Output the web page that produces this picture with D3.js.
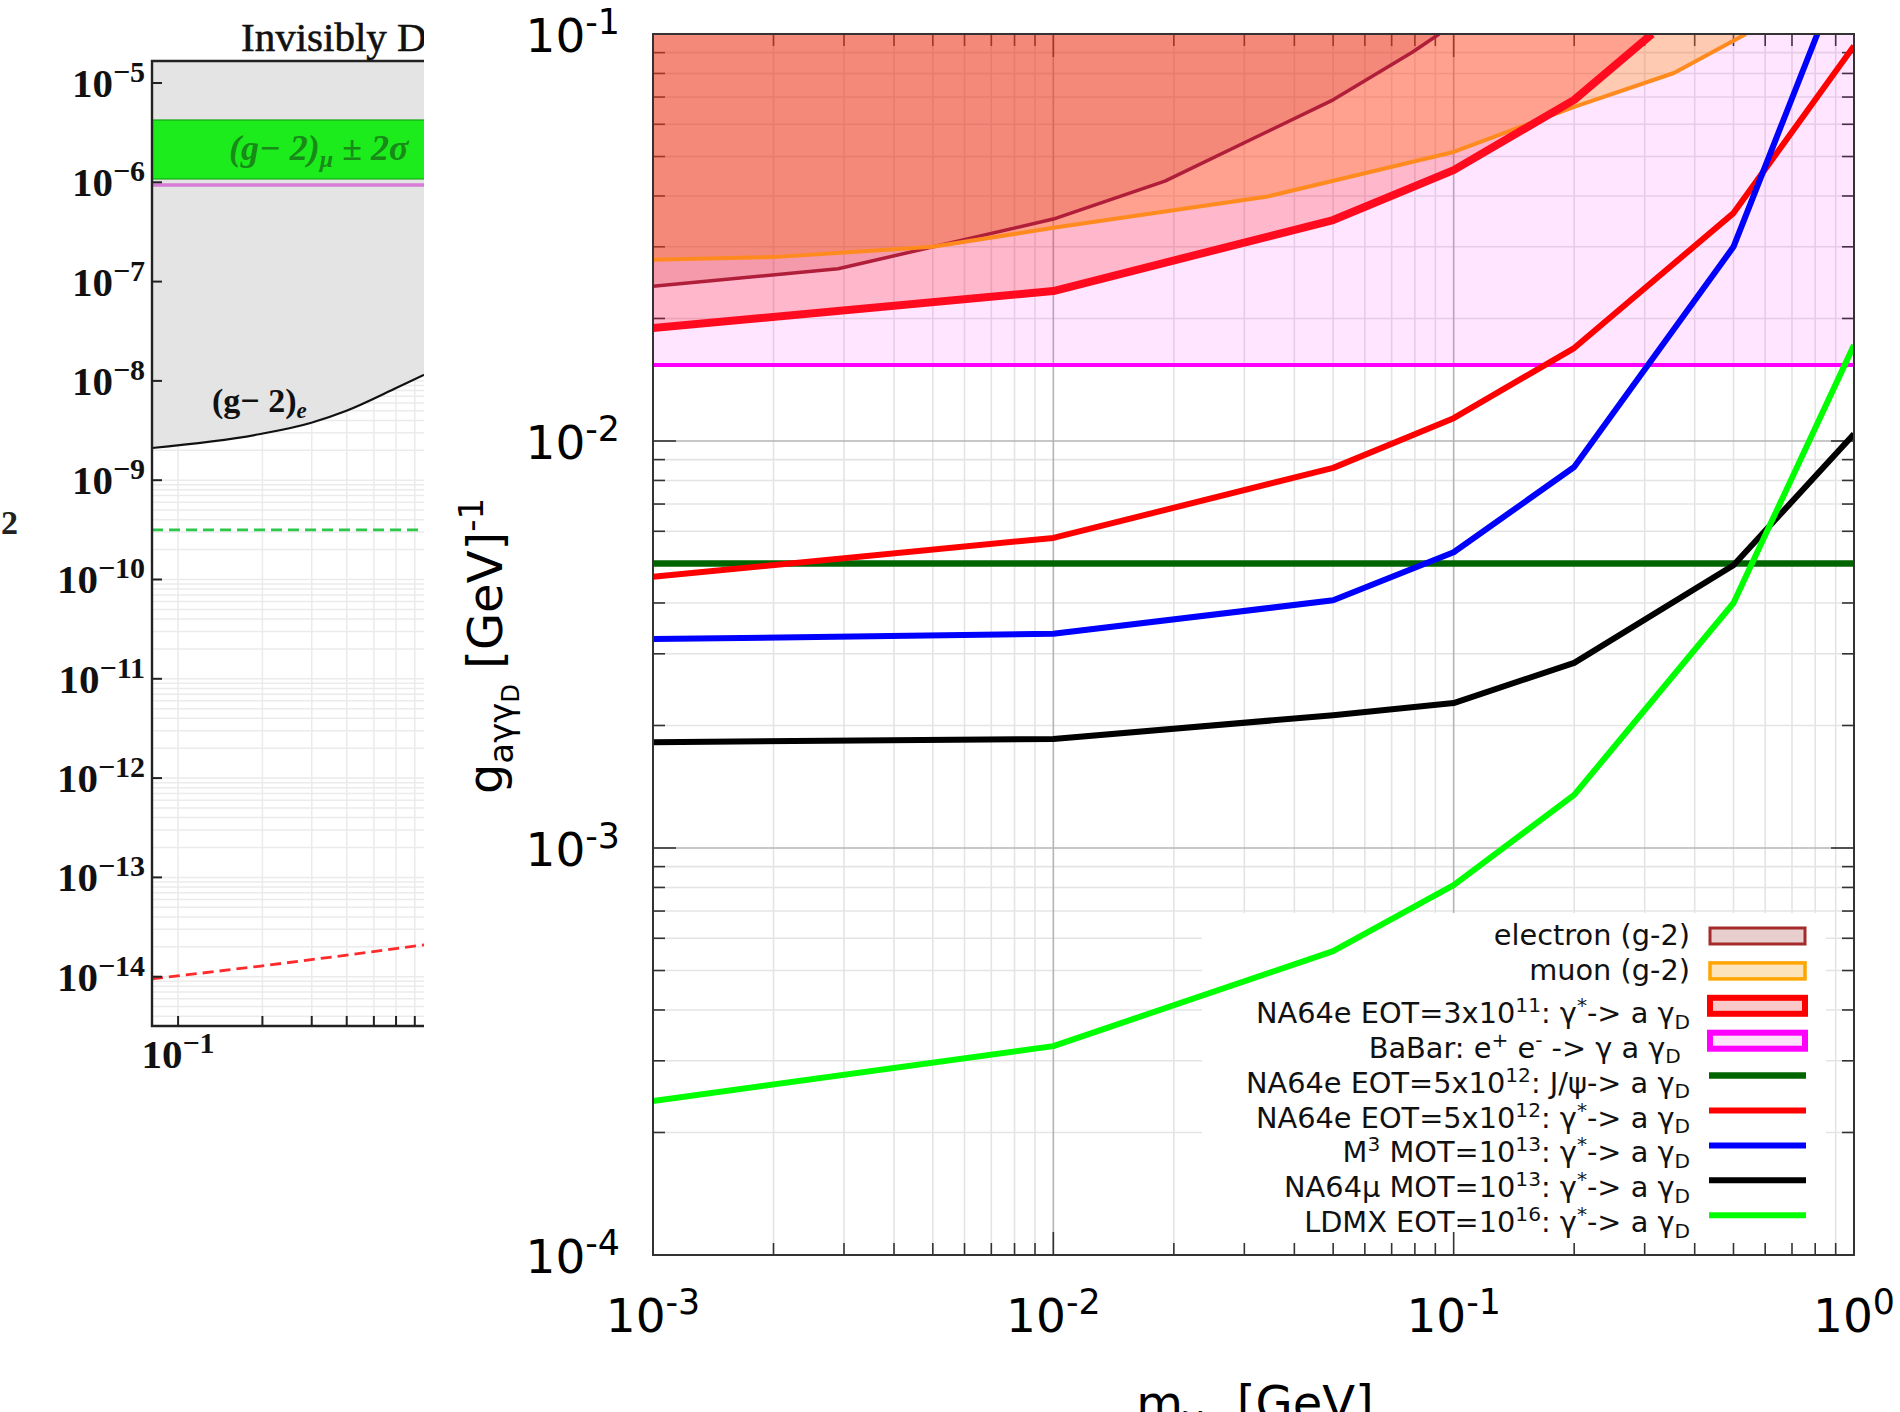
<!DOCTYPE html>
<html>
<head>
<meta charset="utf-8">
<script src="https://cdn.jsdelivr.net/npm/d3@7"></script>
<style>
  html, body { margin: 0; padding: 0; background: #fff; }
  svg { display: block; }
  text { white-space: pre; }
</style>
</head>
<body>
<svg id="chart" width="1900" height="1412"></svg>
<script>
// ---------- main panel: limits on g_{a gamma gamma_D} vs m_{gamma_D} ----------
const electronMass = [0.001, 0.0029, 0.01, 0.019, 0.05, 0.079, 0.092];
const electronG    = [0.0240, 0.0265, 0.0351, 0.0435, 0.0689, 0.0903, 0.1];
const muonMass     = [0.001, 0.002, 0.005, 0.01, 0.034, 0.1, 0.2, 0.355, 0.537];
const muonG        = [0.0279, 0.0283, 0.0300, 0.0334, 0.0398, 0.0513, 0.0662, 0.0802, 0.1];
const na64eMass    = [0.001, 0.01, 0.05, 0.1, 0.2, 0.313];
const na64eG       = [0.01895, 0.02336, 0.0349, 0.0463, 0.0689, 0.1];
const babarG = 0.01538;
const jpsiG = 0.005;
const projMass     = [0.001, 0.01, 0.05, 0.1, 0.2, 0.5, 1];
const na64e5e12G   = [0.00464, 0.00578, 0.00859, 0.01138, 0.01692, 0.0363, 0.0935];
const m3Mass       = [0.001, 0.01, 0.05, 0.1, 0.2, 0.5, 0.81];
const m3G          = [0.00326, 0.00336, 0.00406, 0.00533, 0.00863, 0.030, 0.1];
const na64muG      = [0.00182, 0.001853, 0.00212, 0.00227, 0.00285, 0.00495, 0.0104];
const ldmxG        = [0.000239, 0.000326, 0.000558, 0.000811, 0.00135, 0.0040, 0.0172];

const xTickLabels = ['10^{-3}', '10^{-2}', '10^{-1}', '10^{0}'];
const yTickLabels = ['10^{-4}', '10^{-3}', '10^{-2}', '10^{-1}'];

const legendLabels = [
  'electron (g-2)',
  'muon (g-2)',
  'NA64e EOT=3x10^{11}: γ^{*}-> a γ_{D}',
  'BaBar: e^{+} e^{-} -> γ a γ_{D} ',
  'NA64e EOT=5x10^{12}: J/ψ-> a γ_{D}',
  'NA64e EOT=5x10^{12}: γ^{*}-> a γ_{D}',
  'M^{3} MOT=10^{13}: γ^{*}-> a γ_{D}',
  'NA64μ MOT=10^{13}: γ^{*}-> a γ_{D}',
  'LDMX EOT=10^{16}: γ^{*}-> a γ_{D}'
];

// ---------- left (cropped) panel ----------
const g2eMass = [0.0807, 0.197, 0.297, 0.397, 0.59, 0.755];
const g2eEps  = [2.11e-9, 2.92e-9, 3.77e-9, 4.98e-9, 8.28e-9, 1.15e-8];
const g2muBand = [1.08e-6, 4.24e-6];
const pinkLine = 9.4e-7;
const greenDashed = 3.16e-10;
const redDashMass = [0.0807, 0.197, 0.755];
const redDashEps  = [9.5e-15, 1.28e-14, 2.09e-14];
const leftYTicks = [-5, -6, -7, -8, -9, -10, -11, -12, -13, -14];
const leftXTicks = [0.1, 0.2, 0.3, 0.4, 0.5, 0.6, 0.7];

const svg = d3.select('#chart');
const FONT = 'DejaVu Sans';
const SERIF = 'Liberation Serif';

// text with ^{..} and _{..} markup
function rich(sel, str, size, sc = 0.7) {
  const parts = str.split(/(\^\{[^}]*\}|_\{[^}]*\})/).filter(s => s.length);
  let shift = 0;
  parts.forEach(p => {
    let target = 0, fs = size, t = p;
    if (p.startsWith('^{')) { target = -0.38 * size; fs = sc * size; t = p.slice(2, -1); }
    else if (p.startsWith('_{')) { target = 0.2 * size; fs = sc * size; t = p.slice(2, -1); }
    sel.append('tspan').attr('dy', target - shift).attr('font-size', fs).text(t);
    shift = target;
  });
  return sel;
}

const defs = svg.append('defs');
defs.append('clipPath').attr('id', 'clipMain').append('rect')
  .attr('x', 653).attr('y', 34).attr('width', 1201).attr('height', 1221);
defs.append('clipPath').attr('id', 'clipLeft').append('rect')
  .attr('x', 0).attr('y', 0).attr('width', 424).attr('height', 1412);

// ================= LEFT PANEL =================
const xL = d3.scaleLog().domain([0.0807, 0.755]).range([152, 424]);
const yL = d3.scaleLog().domain([Math.pow(10, -14.4965), Math.pow(10, -4.7785)]).range([1026, 61]);
const left = svg.append('g').attr('clip-path', 'url(#clipLeft)');

// grid
const leftMinorY = [];
for (let e = -15; e <= -5; e++) for (let k = 1; k <= 9; k++) {
  const v = k * Math.pow(10, e);
  if (v > yL.domain()[0] && v < yL.domain()[1]) leftMinorY.push(v);
}
left.append('g').selectAll('line').data(leftMinorY).join('line')
  .attr('x1', 152).attr('x2', 424).attr('y1', d => yL(d)).attr('y2', d => yL(d))
  .attr('stroke', '#ebebeb').attr('stroke-width', 1.5);
left.append('g').selectAll('line').data(leftXTicks).join('line')
  .attr('x1', d => xL(d)).attr('x2', d => xL(d)).attr('y1', 61).attr('y2', 1026)
  .attr('stroke', '#ebebeb').attr('stroke-width', 1.5);

// gray (g-2)_e region
const g2ePts = g2eMass.map((m, i) => [m, g2eEps[i]]);
left.append('path').datum(g2ePts)
  .attr('d', d3.area().x(d => xL(d[0])).y0(61).y1(d => yL(d[1])).curve(d3.curveMonotoneX))
  .attr('fill', '#e4e4e4');
left.append('path').datum(g2ePts)
  .attr('d', d3.line().x(d => xL(d[0])).y(d => yL(d[1])).curve(d3.curveMonotoneX))
  .attr('fill', 'none').attr('stroke', '#111').attr('stroke-width', 2.2);

// (g-2)_mu band and pink line
left.append('rect')
  .attr('x', 152).attr('width', 280)
  .attr('y', yL(g2muBand[1])).attr('height', yL(g2muBand[0]) - yL(g2muBand[1]))
  .attr('fill', '#1cec1c').attr('stroke', '#15a815').attr('stroke-width', 1.2);
left.append('line').attr('x1', 152).attr('x2', 430)
  .attr('y1', yL(pinkLine)).attr('y2', yL(pinkLine))
  .attr('stroke', '#d67bd6').attr('stroke-width', 3.5);

// dashed lines
left.append('line').attr('x1', 152).attr('x2', 430)
  .attr('y1', yL(greenDashed)).attr('y2', yL(greenDashed))
  .attr('stroke', '#2cc84a').attr('stroke-width', 2.8).attr('stroke-dasharray', '11,6');
left.append('path').datum(redDashMass.map((m, i) => [m, redDashEps[i]]))
  .attr('d', d3.line().x(d => xL(d[0])).y(d => yL(d[1])).curve(d3.curveMonotoneX))
  .attr('fill', 'none').attr('stroke', '#ff2a2a').attr('stroke-width', 2.8).attr('stroke-dasharray', '11,6');

// frame & ticks
left.append('path').attr('d', 'M430,61H152V1026H430')
  .attr('fill', 'none').attr('stroke', '#222').attr('stroke-width', 2.4);
left.append('g').selectAll('line').data(leftYTicks).join('line')
  .attr('x1', 152).attr('x2', 162)
  .attr('y1', d => yL(Math.pow(10, d))).attr('y2', d => yL(Math.pow(10, d)))
  .attr('stroke', '#222').attr('stroke-width', 2);
left.append('g').selectAll('line').data(leftXTicks).join('line')
  .attr('x1', d => xL(d)).attr('x2', d => xL(d)).attr('y1', 1026).attr('y2', 1016)
  .attr('stroke', '#222').attr('stroke-width', 2);

// labels
left.append('g').selectAll('text').data(leftYTicks).join('text')
  .attr('x', 145).attr('y', d => yL(Math.pow(10, d)) + 14)
  .attr('text-anchor', 'end').attr('font-family', SERIF).attr('font-size', 41)
  .attr('font-weight', 600).attr('fill', '#111')
  .each(function (d) {
    const t = d3.select(this);
    t.append('tspan').text('10');
    t.append('tspan').attr('dy', -15).attr('font-size', 30).text('\u2212' + (-d));
  });
const lx = left.append('text').attr('x', 178).attr('y', 1068)
  .attr('text-anchor', 'middle').attr('font-family', SERIF).attr('font-size', 41)
  .attr('font-weight', 600).attr('fill', '#111');
lx.append('tspan').text('10');
lx.append('tspan').attr('dy', -15).attr('font-size', 30).text('\u22121');

left.append('text').attr('x', 241).attr('y', 51)
  .attr('font-family', SERIF).attr('font-size', 41).attr('fill', '#111')
  .attr('stroke', '#111').attr('stroke-width', 0.6)
  .text('Invisibly D');

const gmu = left.append('text').attr('x', 229).attr('y', 160)
  .attr('font-family', SERIF).attr('font-size', 36).attr('font-style', 'italic')
  .attr('font-weight', 'bold').attr('fill', '#178a17');
gmu.append('tspan').text('(g\u2212 2)');
gmu.append('tspan').attr('dy', 7).attr('font-size', 24).text('\u03bc');
gmu.append('tspan').attr('dy', -7).text(' \u00b1 2\u03c3');

const ge = left.append('text').attr('x', 212).attr('y', 412)
  .attr('font-family', SERIF).attr('font-size', 34).attr('font-weight', 'bold').attr('fill', '#111');
ge.append('tspan').text('(g\u2212 2)');
ge.append('tspan').attr('dy', 6).attr('font-size', 23).attr('font-style', 'italic').text('e');

left.append('text').attr('x', 1).attr('y', 534)
  .attr('font-family', SERIF).attr('font-size', 34).attr('font-weight', 'bold').attr('fill', '#222')
  .text('2');

// ================= MAIN PANEL =================
const x = d3.scaleLog().domain([1e-3, 1]).range([653, 1854]);
const y = d3.scaleLog().domain([1e-4, 1e-1]).range([1255, 34]);

const majorX = [1e-3, 1e-2, 1e-1, 1];
const majorY = [1e-4, 1e-3, 1e-2, 1e-1];
const minorX = [], minorY = [];
for (let e = -3; e < 0; e++) for (let k = 2; k <= 9; k++) minorX.push(k * Math.pow(10, e));
for (let e = -4; e < -1; e++) for (let k = 2; k <= 9; k++) minorY.push(k * Math.pow(10, e));

const grid = svg.append('g');
grid.selectAll('.gx').data(minorX).join('line')
  .attr('x1', d => x(d)).attr('x2', d => x(d)).attr('y1', 34).attr('y2', 1255)
  .attr('stroke', '#e4e4e4').attr('stroke-width', 1.6);
grid.selectAll('.gy').data(minorY).join('line')
  .attr('x1', 653).attr('x2', 1854).attr('y1', d => y(d)).attr('y2', d => y(d))
  .attr('stroke', '#e4e4e4').attr('stroke-width', 1.6);
grid.selectAll('.gX').data(majorX).join('line')
  .attr('x1', d => x(d)).attr('x2', d => x(d)).attr('y1', 34).attr('y2', 1255)
  .attr('stroke', '#b4b4b4').attr('stroke-width', 1.6);
grid.selectAll('.gY').data(majorY).join('line')
  .attr('x1', 653).attr('x2', 1854).attr('y1', d => y(d)).attr('y2', d => y(d))
  .attr('stroke', '#b4b4b4').attr('stroke-width', 1.6);

// legend background covers the grid
svg.append('rect').attr('x', 1202).attr('y', 913).attr('width', 624).attr('height', 342)
  .attr('fill', '#fff');

// ticks on all four sides
function drawTicks(g, sides) {
  const tk = [...majorX.map(v => [v, 23]), ...minorX.map(v => [v, 12])];
  const tky = [...majorY.map(v => [v, 23]), ...minorY.map(v => [v, 12])];
  const st = s => s.attr('stroke', '#333').attr('stroke-width', 1.6);
  if (sides.includes('b')) st(g.append('g').selectAll('line').data(tk).join('line')
    .attr('x1', d => x(d[0])).attr('x2', d => x(d[0])).attr('y1', 1255).attr('y2', d => 1255 - d[1]));
  if (sides.includes('t')) st(g.append('g').selectAll('line').data(tk).join('line')
    .attr('x1', d => x(d[0])).attr('x2', d => x(d[0])).attr('y1', 34).attr('y2', d => 34 + d[1]));
  if (sides.includes('l')) st(g.append('g').selectAll('line').data(tky).join('line')
    .attr('y1', d => y(d[0])).attr('y2', d => y(d[0])).attr('x1', 653).attr('x2', d => 653 + d[1]));
  if (sides.includes('r')) st(g.append('g').selectAll('line').data(tky).join('line')
    .attr('y1', d => y(d[0])).attr('y2', d => y(d[0])).attr('x1', 1854).attr('x2', d => 1854 - d[1]));
}
drawTicks(svg.append('g'), 'btlr');

// exclusion regions
const plot = svg.append('g').attr('clip-path', 'url(#clipMain)');
const toPts = (ms, gs) => ms.map((m, i) => [m, gs[i]]);
const above = d3.area().x(d => x(d[0])).y0(y(0.1)).y1(d => y(d[1]));
const line = d3.line().x(d => x(d[0])).y(d => y(d[1]));

const babarPts = [[1e-3, babarG], [1, babarG]];
plot.append('path').datum(babarPts).attr('d', above).attr('fill', 'rgba(255,0,255,0.1)');
plot.append('path').datum(toPts(muonMass, muonG)).attr('d', above).attr('fill', 'rgba(255,140,0,0.3)');
plot.append('path').datum(toPts(na64eMass, na64eG)).attr('d', above).attr('fill', 'rgba(255,0,0,0.2)');
plot.append('path').datum(toPts(electronMass, electronG)).attr('d', above).attr('fill', 'rgba(200,40,40,0.2)');

// boundary lines
const series = [
  { pts: babarPts, color: '#ff00ff', w: 4 },
  { pts: toPts(electronMass, electronG), color: '#b01e3a', w: 3.5 },
  { pts: toPts(muonMass, muonG), color: '#ff8a1e', w: 4 },
  { pts: toPts(na64eMass, na64eG), color: '#ff0a1e', w: 8 },
  { pts: [[1e-3, jpsiG], [1, jpsiG]], color: '#006400', w: 6.5 },
  { pts: toPts(projMass, na64e5e12G), color: '#ff0000', w: 6 },
  { pts: toPts(m3Mass, m3G), color: '#0000ff', w: 6 },
  { pts: toPts(projMass, na64muG), color: '#000000', w: 6 },
  { pts: toPts(projMass, ldmxG), color: '#00ff00', w: 6 }
];
plot.selectAll('.series').data(series).join('path')
  .attr('d', d => line(d.pts)).attr('fill', 'none')
  .attr('stroke', d => d.color).attr('stroke-width', d => d.w)
  .attr('stroke-linejoin', 'round');

// frame
svg.append('rect').attr('x', 653).attr('y', 34).attr('width', 1201).attr('height', 1221)
  .attr('fill', 'none').attr('stroke', '#333').attr('stroke-width', 2);

// legend
const swatches = [
  { type: 'box', fill: '#e9cece', stroke: '#a52a2a', w: 3 },
  { type: 'box', fill: '#fde3b9', stroke: '#ffa500', w: 3.5 },
  { type: 'box', fill: '#f9c8c8', stroke: '#ff0000', w: 6 },
  { type: 'box', fill: '#fde2fc', stroke: '#ff00ff', w: 6 },
  { type: 'line', stroke: '#006400', w: 6.5 },
  { type: 'line', stroke: '#ff0000', w: 6 },
  { type: 'line', stroke: '#0000ff', w: 6 },
  { type: 'line', stroke: '#000000', w: 6 },
  { type: 'line', stroke: '#00ff00', w: 6 }
];
const legend = svg.append('g');
legendLabels.forEach((lab, i) => {
  const cy = 936 + 34.9 * i;
  const sw = swatches[i];
  if (sw.type === 'box') {
    legend.append('rect').attr('x', 1710).attr('y', cy - 8).attr('width', 95).attr('height', 16)
      .attr('fill', sw.fill).attr('stroke', sw.stroke).attr('stroke-width', sw.w);
  } else {
    legend.append('line').attr('x1', 1709).attr('x2', 1806).attr('y1', cy).attr('y2', cy)
      .attr('stroke', sw.stroke).attr('stroke-width', sw.w);
  }
  const hasSub = lab.includes('_{');
  const t = legend.append('text').attr('x', 1690).attr('y', cy + (hasSub ? 17 : 9))
    .attr('text-anchor', 'end').attr('font-family', FONT).attr('font-size', 28.8).attr('fill', '#111');
  rich(t, lab, 28.8);
});

// tick labels
svg.append('g').selectAll('text').data(majorX).join('text')
  .attr('x', d => x(d)).attr('y', 1332).attr('text-anchor', 'middle')
  .attr('font-family', FONT).attr('font-size', 47).attr('fill', '#000')
  .each(function (d, i) { rich(d3.select(this), xTickLabels[i], 47, 0.74); });
svg.append('g').selectAll('text').data(majorY).join('text')
  .attr('x', 620).attr('y', d => y(d) + 18).attr('text-anchor', 'end')
  .attr('font-family', FONT).attr('font-size', 47).attr('fill', '#000')
  .each(function (d, i) { rich(d3.select(this), yTickLabels[i], 47, 0.74); });

// axis titles
const yl = svg.append('text').attr('transform', 'translate(502,646) rotate(-90)')
  .attr('text-anchor', 'middle').attr('font-family', FONT).attr('font-size', 48).attr('fill', '#000');
yl.append('tspan').text('g');
yl.append('tspan').attr('dy', 11).attr('font-size', 34).text('aγγ');
yl.append('tspan').attr('dy', 6).attr('font-size', 24).text('D');
yl.append('tspan').attr('dy', -17).text(' [GeV]');
yl.append('tspan').attr('dy', -19).attr('font-size', 34).text('-1');

const xl = svg.append('text').attr('x', 1255).attr('y', 1420)
  .attr('text-anchor', 'middle').attr('font-family', FONT).attr('font-size', 48).attr('fill', '#000');
xl.append('tspan').text('m');
xl.append('tspan').attr('dy', 10).attr('font-size', 34).text('γ');
xl.append('tspan').attr('dy', 6).attr('font-size', 24).text('D');
xl.append('tspan').attr('dy', -16).text(' [GeV]');
</script>
</body>
</html>
